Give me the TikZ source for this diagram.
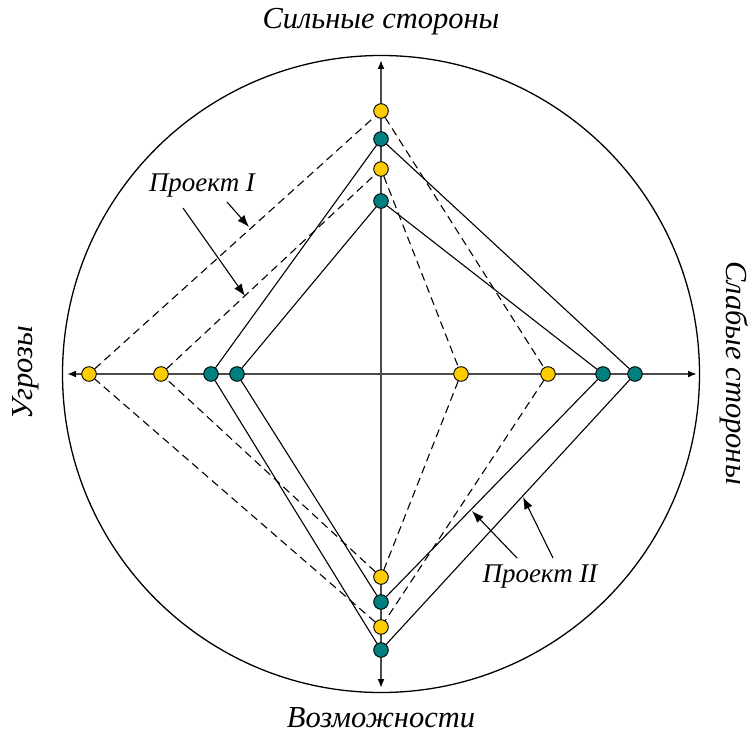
\documentclass[tikz,border=0pt]{standalone}
\usepackage{fontspec}
\setmainfont{Liberation Serif}
\usetikzlibrary{arrows.meta}

\definecolor{dotgold}{RGB}{255,204,0}
\definecolor{dotteal}{RGB}{0,128,128}
\definecolor{axisgray}{RGB}{75,75,75}

\tikzset{
  axistip/.tip={Latex[length=9pt,width=7pt,color=black]},
  axisline/.style={draw=axisgray, line width=1.8pt, axistip-axistip},
  golddot/.style={circle, draw=black, line width=0.9pt, fill=dotgold, minimum size=14.6pt, inner sep=0pt},
  tealdot/.style={circle, draw=black, line width=0.9pt, fill=dotteal, minimum size=14.6pt, inner sep=0pt},
  solidedge/.style={draw=black, line width=1.1pt},
  dashededge/.style={draw=black, line width=1.1pt, dashed, dash pattern=on 8pt off 5pt},
  callout/.style={draw=black, line width=1.1pt, -{Latex[length=12pt,width=9pt]}},
  axislabel/.style={font=\fontsize{30.5}{32}\selectfont\itshape, inner sep=0pt},
  projlabel/.style={font=\fontsize{27}{29}\selectfont\itshape, inner sep=0pt},
}

\begin{document}
\begin{tikzpicture}[x=1pt, y=-1pt]
\useasboundingbox (0,0) rectangle (752,735);

% outer circle
\coordinate (c) at (381,374);
\draw[line width=1.3pt] (c) circle[radius=318.5];

% axes
\coordinate (top) at (381,60);
\coordinate (bottom) at (381,688);
\coordinate (left) at (67,374);
\coordinate (right) at (697,374);
\draw[axisline] (bottom) -- (top);
\draw[axisline] (left) -- (right);

% project I (gold points)
\node[golddot] (ga) at (381,111) {};
\node[golddot] (gb) at (548,374) {};
\node[golddot] (gc) at (381,627) {};
\node[golddot] (gd) at (89,374) {};
\node[golddot] (ge) at (381,169) {};
\node[golddot] (gf) at (461,374) {};
\node[golddot] (gg) at (381,577) {};
\node[golddot] (gh) at (161,374) {};

% project II (teal points)
\node[tealdot] (ta) at (381,139) {};
\node[tealdot] (tb) at (635,374) {};
\node[tealdot] (tc) at (381,650) {};
\node[tealdot] (td) at (211,374) {};
\node[tealdot] (te) at (381,201) {};
\node[tealdot] (tf) at (603,374) {};
\node[tealdot] (tg) at (381,602) {};
\node[tealdot] (th) at (237,374) {};

% project polygons
\draw[dashededge] (ga) -- (gb) -- (gc) -- (gd) -- (ga);
\draw[dashededge] (ge) -- (gf) -- (gg) -- (gh) -- (ge);
\draw[solidedge] (ta) -- (tb) -- (tc) -- (td) -- (ta);
\draw[solidedge] (te) -- (tf) -- (tg) -- (th) -- (te);

% axis labels
\node[axislabel] (lstr) at (381,22) {Сильные стороны};
\node[axislabel] (lopp) at (381,718) {Возможности};
\node[axislabel, rotate=90] (lthr) at (26,373) {Угрозы};
\node[axislabel, rotate=-90] (lweak) at (734,373) {Слабые стороны};

% project labels with callouts
\node[projlabel] (p1) at (202,186) {Проект I};
\node[projlabel] (p2) at (540,577) {Проект II};
\coordinate (p1s1) at (227,202);
\coordinate (p1t1) at (249,227);
\coordinate (p1s2) at (183,208);
\coordinate (p1t2) at (245,296);
\draw[callout] (p1s1) -- (p1t1);
\draw[callout] (p1s2) -- (p1t2);
\coordinate (p2s1) at (517,558);
\coordinate (p2t1) at (472,511);
\coordinate (p2s2) at (553,558);
\coordinate (p2t2) at (523,497);
\draw[callout] (p2s1) -- (p2t1);
\draw[callout] (p2s2) -- (p2t2);
\end{tikzpicture}
\end{document}
